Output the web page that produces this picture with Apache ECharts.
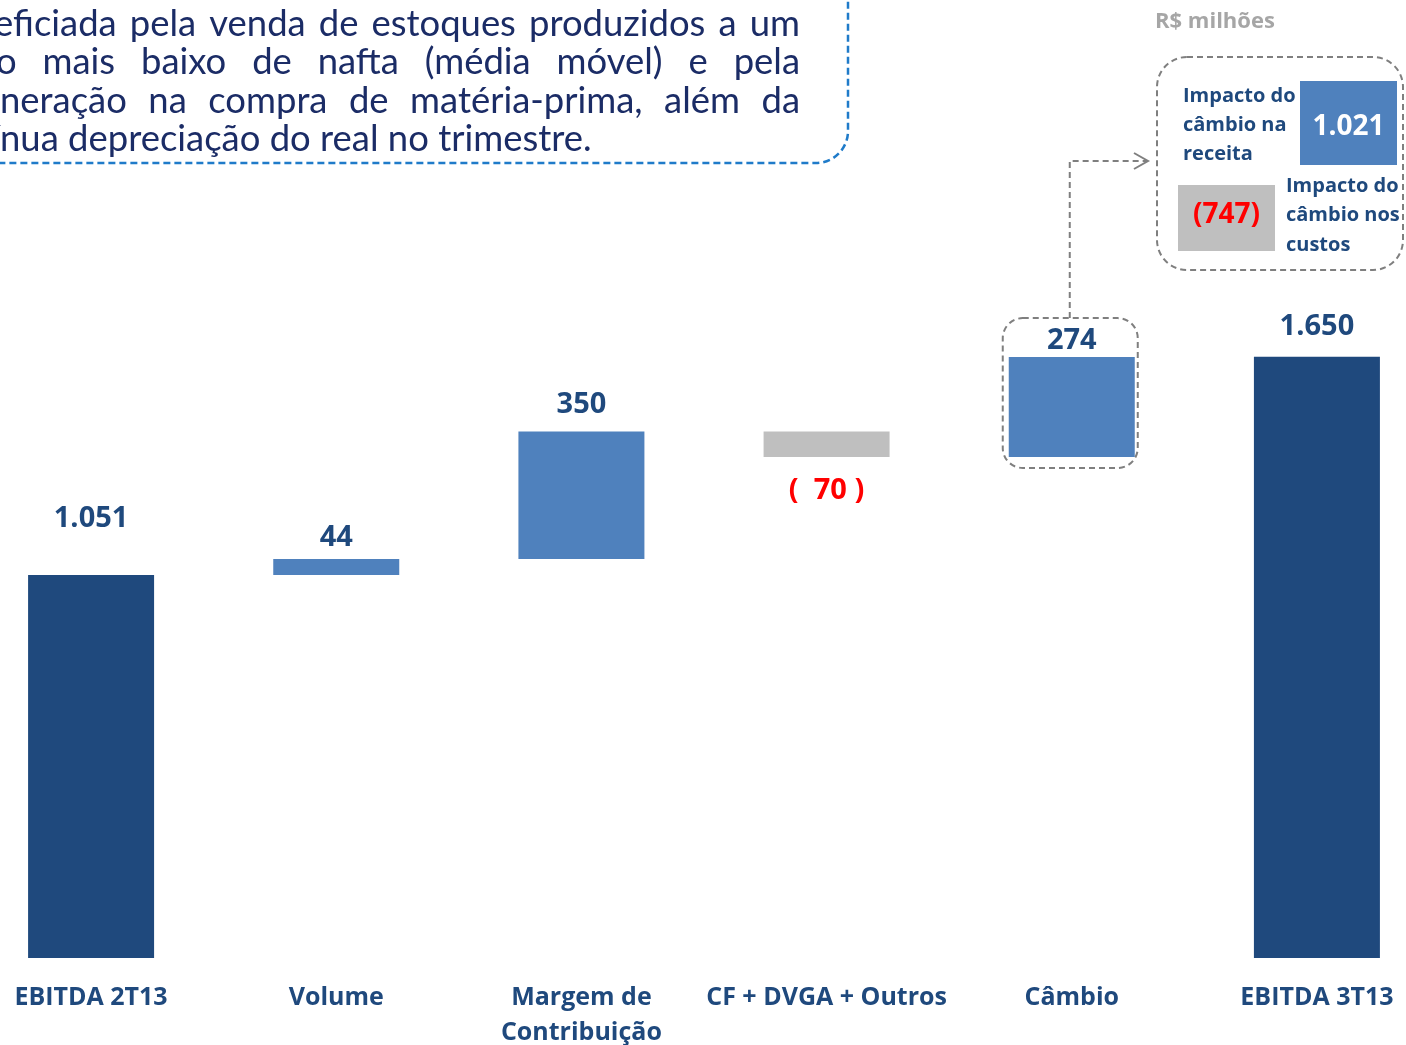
<!DOCTYPE html>
<html><head><meta charset="utf-8">
<script src="https://cdn.jsdelivr.net/npm/echarts@6/dist/echarts.min.js"></script>
<style>html,body{margin:0;padding:0;background:#fff;overflow:hidden}#c{width:1406px;height:1045px}</style>
</head><body><div id="c"></div>
<script>
// ---- data ----
const categories = ['EBITDA 2T13', 'Volume', 'Margem de\nContribuição', 'CF + DVGA + Outros', 'Câmbio', 'EBITDA 3T13'];
const deltas = [1051, 44, 350, -70, 274, 1650];
const isTotal = [true, false, false, false, false, true];
const fxRevenueImpact = 1021;
const fxCostImpact = -747;
const unitLabel = 'R$ milhões';
const revenueText = ['Impacto do', 'câmbio na', 'receita'];
const costText = ['Impacto do', 'câmbio nos', 'custos'];
const noteLines = [
  'beneficiada pela venda de estoques produzidos a um',
  'custo mais baixo de nafta (média móvel) e pela',
  'desoneração na compra de matéria-prima, além da',
  'contínua depreciação do real no trimestre.'
];
const labelGap = [42, 7, 12, 19, 2, 16];

// ---- helpers ----
const fmt = n => String(Math.abs(n)).replace(/\B(?=(\d{3})+(?!\d))/g, '.');
const DARK = '#1F497D', BLUE = '#4F81BD', GRAY = '#BFBFBF', RED = '#FF0000';

// waterfall base/visible computation
const base = [], vis = [];
let run = 0;
deltas.forEach((d, i) => {
  if (isTotal[i]) { base.push(0); vis.push(d); run = d; }
  else if (d >= 0) { base.push(run); vis.push(d); run += d; }
  else { run += d; base.push(run); vis.push(-d); }
});

const chart = echarts.init(document.getElementById('c'), null, {renderer: 'canvas'});
const valueData = deltas.map((d, i) => ({
  value: vis[i],
  itemStyle: {color: isTotal[i] ? DARK : (d >= 0 ? BLUE : GRAY)},
  label: d >= 0 ? {
    show: true, position: 'top', distance: labelGap[i],
    formatter: fmt(d), color: DARK
  } : {
    show: true, position: 'bottom', distance: labelGap[i],
    formatter: '(  ' + fmt(d) + ' )', color: RED
  }
}));

chart.setOption({
  animation: false,
  grid: {left: -31.5, right: -33.5, top: 229.2, bottom: 87, containLabel: false, outerBoundsMode: 'none'},
  xAxis: {
    type: 'category', data: categories,
    axisLine: {show: false}, axisTick: {show: false}, splitLine: {show: false},
    axisLabel: {interval: 0, margin: 22, color: DARK, fontFamily: 'Open Sans', fontWeight: 'bold', fontSize: 25, lineHeight: 35}
  },
  yAxis: {type: 'value', min: 0, max: 2000, show: false},
  series: [
    {type: 'bar', stack: 'w', data: base, barWidth: 126, itemStyle: {color: 'rgba(0,0,0,0)'}, silent: true},
    {type: 'bar', stack: 'w', data: valueData, barWidth: 126,
     label: {fontFamily: 'Open Sans', fontWeight: 'bold', fontSize: 29}}
  ]
});

// ---- annotations ----
const g = [];
// note box (top-left)
g.push({type: 'rect', shape: {x: -60, y: -60, width: 908, height: 223, r: 32},
  style: {fill: 'none', stroke: '#1F7BC9', lineWidth: 2.5, lineDash: [7, 4]}});
const noteFont = 'Lato';
const ctx = document.createElement('canvas').getContext('2d');
const measure = (t, fs) => { ctx.font = fs + 'px ' + noteFont; return ctx.measureText(t).width; };
let fs = 30;
fs = fs * 592 / measure('nua depreciação do real no trimestre.', fs);
const R = 800;
const Ls = [-measure('ben', fs) - 6, -measure('cust', fs) - 4, -measure('deso', fs), -measure('contí', fs)];
const lineY = [24, 62, 101, 139];
noteLines.forEach((line, li) => {
  const words = line.split(' ');
  const L = Ls[li];
  if (li < noteLines.length - 1) {
    const wsum = words.reduce((a, w) => a + measure(w, fs), 0);
    const gap = (R - L - wsum) / (words.length - 1);
    let x = L;
    words.forEach(w => {
      g.push({type: 'text', x: x, y: lineY[li], style: {text: w, font: fs + 'px ' + noteFont, fill: '#1B2C66', textVerticalAlign: 'middle'}});
      x += measure(w, fs) + gap;
    });
  } else {
    g.push({type: 'text', x: L, y: lineY[li], style: {text: line, font: fs + 'px ' + noteFont, fill: '#1B2C66', textVerticalAlign: 'middle'}});
  }
});

// unit label
g.push({type: 'text', x: 1155, y: 22, style: {text: unitLabel, font: 'bold 22px "Open Sans"', fill: '#A6A6A6', textVerticalAlign: 'middle'}});

// inset box
g.push({type: 'rect', shape: {x: 1157, y: 57, width: 246, height: 213, r: 30},
  style: {fill: 'none', stroke: '#7F7F7F', lineWidth: 2, lineDash: [6, 4]}});
g.push({type: 'rect', shape: {x: 1300, y: 81, width: 97, height: 84}, style: {fill: BLUE}});
g.push({type: 'text', x: 1348.5, y: 127, style: {text: fmt(fxRevenueImpact), font: 'bold 28px "Open Sans"', fill: '#fff', textAlign: 'center', textVerticalAlign: 'middle'}});
g.push({type: 'rect', shape: {x: 1178, y: 185, width: 97, height: 66}, style: {fill: GRAY}});
g.push({type: 'text', x: 1226.5, y: 215, style: {text: '(' + fmt(fxCostImpact) + ')', font: 'bold 28px "Open Sans"', fill: RED, textAlign: 'center', textVerticalAlign: 'middle'}});
revenueText.forEach((t, i) => g.push({type: 'text', x: 1183, y: 96 + i * 29, style: {text: t, font: 'bold 20px "Open Sans"', fill: DARK, textVerticalAlign: 'middle'}}));
costText.forEach((t, i) => g.push({type: 'text', x: 1286, y: 186 + i * 29.5, style: {text: t, font: 'bold 20px "Open Sans"', fill: DARK, textVerticalAlign: 'middle'}}));

// box around the exchange-rate bar, computed from the chart's scales
const ci = 4;
const cx = chart.convertToPixel({xAxisIndex: 0}, ci);
const yTop = chart.convertToPixel({yAxisIndex: 0}, base[ci] + vis[ci]);
const yBot = chart.convertToPixel({yAxisIndex: 0}, base[ci]);
const bx0 = cx - 69, bx1 = cx + 66, by0 = yTop - 39, by1 = yBot + 11;
g.push({type: 'rect', shape: {x: bx0, y: by0, width: bx1 - bx0, height: by1 - by0, r: 20},
  style: {fill: 'none', stroke: '#7F7F7F', lineWidth: 2, lineDash: [6, 4]}});
const lx = cx - 2;
g.push({type: 'polyline', shape: {points: [[lx, by0], [lx, 161], [1148, 161]]},
  style: {fill: 'none', stroke: '#7F7F7F', lineWidth: 2, lineDash: [6, 4]}});
g.push({type: 'polyline', shape: {points: [[1134, 153], [1148, 161], [1134, 169]]},
  style: {fill: 'none', stroke: '#7F7F7F', lineWidth: 2}});

chart.setOption({graphic: g});
</script>
</body></html>
